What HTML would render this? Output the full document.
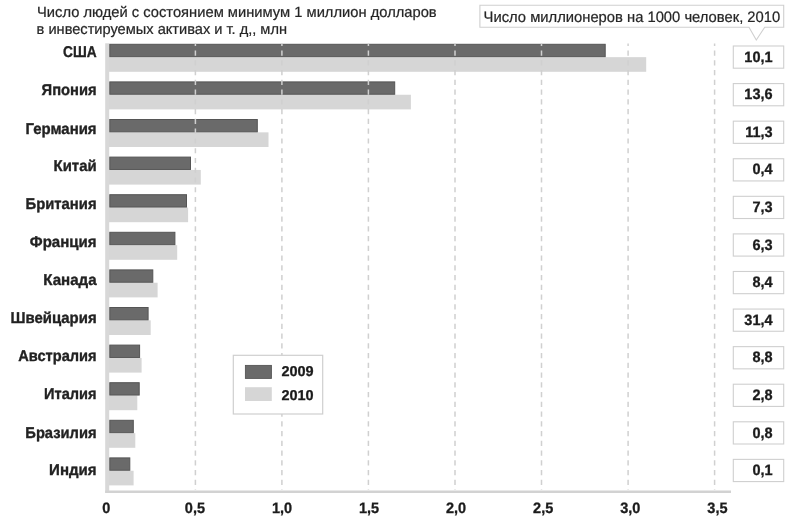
<!DOCTYPE html>
<html lang="ru"><head><meta charset="utf-8"><title>Число миллионеров</title>
<style>
html,body{margin:0;padding:0;background:#fff;}
body{width:790px;height:522px;overflow:hidden;}
svg{display:block;filter:blur(0.35px);}
text{font-family:"Liberation Sans",sans-serif;text-rendering:geometricPrecision;}
.t{font-size:14.9px;fill:#262626;stroke:#262626;stroke-width:0.22px;}
.t2{font-size:15.1px;fill:#262626;stroke:#262626;stroke-width:0.22px;}
.c{font-size:15.6px;font-weight:bold;fill:#222;stroke:#222;stroke-width:0.35px;}
.n{font-size:14.5px;font-weight:bold;fill:#1c1c1c;stroke:#1c1c1c;stroke-width:0.3px;}
</style></head><body>
<svg width="790" height="522" viewBox="0 0 790 522">
<rect x="0" y="0" width="790" height="522" fill="#fff"/>
<rect x="105.2" y="43.3" width="4.0" height="449.6" fill="#d8d8d8"/>
<rect x="105.2" y="490.5" width="625.8" height="2.5" fill="#d2d2d2"/>
<rect x="109.0" y="57.15" width="537.2" height="14.65" fill="#d6d6d6"/>
<rect x="109.80" y="44.30" width="495.4" height="12.35" fill="#6a6a6a" stroke="#555555" stroke-width="1"/>
<rect x="109.0" y="94.75" width="301.9" height="14.65" fill="#d6d6d6"/>
<rect x="109.80" y="81.90" width="284.9" height="12.35" fill="#6a6a6a" stroke="#555555" stroke-width="1"/>
<rect x="109.0" y="132.35" width="159.5" height="14.65" fill="#d6d6d6"/>
<rect x="109.80" y="119.50" width="147.5" height="12.35" fill="#6a6a6a" stroke="#555555" stroke-width="1"/>
<rect x="109.0" y="169.95" width="91.8" height="14.65" fill="#d6d6d6"/>
<rect x="109.80" y="157.10" width="80.7" height="12.35" fill="#6a6a6a" stroke="#555555" stroke-width="1"/>
<rect x="109.0" y="207.55" width="79.1" height="14.65" fill="#d6d6d6"/>
<rect x="109.80" y="194.70" width="76.7" height="12.35" fill="#6a6a6a" stroke="#555555" stroke-width="1"/>
<rect x="109.0" y="245.15" width="68.2" height="14.65" fill="#d6d6d6"/>
<rect x="109.80" y="232.30" width="65.1" height="12.35" fill="#6a6a6a" stroke="#555555" stroke-width="1"/>
<rect x="109.0" y="282.75" width="48.6" height="14.65" fill="#d6d6d6"/>
<rect x="109.80" y="269.90" width="43.0" height="12.35" fill="#6a6a6a" stroke="#555555" stroke-width="1"/>
<rect x="109.0" y="320.35" width="41.7" height="14.65" fill="#d6d6d6"/>
<rect x="109.80" y="307.50" width="38.3" height="12.35" fill="#6a6a6a" stroke="#555555" stroke-width="1"/>
<rect x="109.0" y="357.95" width="32.6" height="14.65" fill="#d6d6d6"/>
<rect x="109.80" y="345.10" width="29.8" height="12.35" fill="#6a6a6a" stroke="#555555" stroke-width="1"/>
<rect x="109.0" y="395.55" width="28.3" height="14.65" fill="#d6d6d6"/>
<rect x="109.80" y="382.70" width="29.4" height="12.35" fill="#6a6a6a" stroke="#555555" stroke-width="1"/>
<rect x="109.0" y="433.15" width="26.3" height="14.65" fill="#d6d6d6"/>
<rect x="109.80" y="420.30" width="23.5" height="12.35" fill="#6a6a6a" stroke="#555555" stroke-width="1"/>
<rect x="109.0" y="470.75" width="24.6" height="14.65" fill="#d6d6d6"/>
<rect x="109.80" y="457.90" width="20.0" height="12.35" fill="#6a6a6a" stroke="#555555" stroke-width="1"/>
<line x1="195.4" y1="43.5" x2="195.4" y2="490" stroke="#d0d0d0" stroke-width="1.5" stroke-dasharray="5.2 4.556" stroke-dashoffset="2.68"/>
<line x1="281.9" y1="43.5" x2="281.9" y2="490" stroke="#d0d0d0" stroke-width="1.5" stroke-dasharray="5.2 4.556" stroke-dashoffset="2.68"/>
<line x1="368.4" y1="43.5" x2="368.4" y2="490" stroke="#d0d0d0" stroke-width="1.5" stroke-dasharray="5.2 4.556" stroke-dashoffset="2.68"/>
<line x1="455.0" y1="43.5" x2="455.0" y2="490" stroke="#d0d0d0" stroke-width="1.5" stroke-dasharray="5.2 4.556" stroke-dashoffset="2.68"/>
<line x1="541.5" y1="43.5" x2="541.5" y2="490" stroke="#d0d0d0" stroke-width="1.5" stroke-dasharray="5.2 4.556" stroke-dashoffset="2.68"/>
<line x1="628.1" y1="43.5" x2="628.1" y2="490" stroke="#d0d0d0" stroke-width="1.5" stroke-dasharray="5.2 4.556" stroke-dashoffset="2.68"/>
<line x1="714.6" y1="43.5" x2="714.6" y2="490" stroke="#d0d0d0" stroke-width="1.5" stroke-dasharray="5.2 4.556" stroke-dashoffset="2.68"/>
<rect x="233.3" y="355.3" width="89.4" height="58.7" fill="#fff" stroke="#cfcfcf" stroke-width="1.2"/>
<rect x="245.4" y="365.4" width="26" height="13" fill="#6a6a6a" stroke="#555555" stroke-width="0.9"/>
<rect x="245" y="387.2" width="26.8" height="13.8" fill="#d6d6d6"/>
<text class="n" transform="translate(281.4,376.0) scale(1,0.98)">2009</text>
<text class="n" transform="translate(281.4,400.0) scale(1,0.98)">2010</text>
<text class="t" x="37" y="17.4" textLength="399.7" lengthAdjust="spacingAndGlyphs">Число людей с состоянием минимум 1 миллион долларов</text>
<text class="t" x="36.6" y="33.6" textLength="250.4" lengthAdjust="spacingAndGlyphs">в инвестируемых активах и т. д,, млн</text>
<path d="M479.9 5.3 H783.7 V27.3 H764.7 L756.3 40 L749 27.3 H479.9 Z" fill="#fff" stroke="#cfcfcf" stroke-width="1.1"/>
<text class="t2" x="483.6" y="21.5" textLength="296.6" lengthAdjust="spacingAndGlyphs">Число миллионеров на 1000 человек, 2010</text>
<text class="c" transform="translate(63.0,57.2) scale(1,1.0)" x="0" y="0" textLength="33.6" lengthAdjust="spacingAndGlyphs">США</text>
<text class="c" transform="translate(41.6,94.8) scale(1,1.0)" x="0" y="0" textLength="55.0" lengthAdjust="spacingAndGlyphs">Япония</text>
<text class="c" transform="translate(25.5,133.5) scale(1,1.0)" x="0" y="0" textLength="71.1" lengthAdjust="spacingAndGlyphs">Германия</text>
<text class="c" transform="translate(53.6,171.0) scale(1,1.0)" x="0" y="0" textLength="43.0" lengthAdjust="spacingAndGlyphs">Китай</text>
<text class="c" transform="translate(25.5,209.2) scale(1,1.0)" x="0" y="0" textLength="71.1" lengthAdjust="spacingAndGlyphs">Британия</text>
<text class="c" transform="translate(29.8,246.6) scale(1,1.0)" x="0" y="0" textLength="66.8" lengthAdjust="spacingAndGlyphs">Франция</text>
<text class="c" transform="translate(43.3,284.5) scale(1,1.0)" x="0" y="0" textLength="53.3" lengthAdjust="spacingAndGlyphs">Канада</text>
<text class="c" transform="translate(10.5,322.7) scale(1,1.0)" x="0" y="0" textLength="86.1" lengthAdjust="spacingAndGlyphs">Швейцария</text>
<text class="c" transform="translate(18.3,361.2) scale(1,1.0)" x="0" y="0" textLength="78.3" lengthAdjust="spacingAndGlyphs">Австралия</text>
<text class="c" transform="translate(44.1,398.6) scale(1,1.0)" x="0" y="0" textLength="52.5" lengthAdjust="spacingAndGlyphs">Италия</text>
<text class="c" transform="translate(25.3,437.5) scale(1,1.0)" x="0" y="0" textLength="71.3" lengthAdjust="spacingAndGlyphs">Бразилия</text>
<text class="c" transform="translate(49.1,474.9) scale(1,1.0)" x="0" y="0" textLength="47.5" lengthAdjust="spacingAndGlyphs">Индия</text>
<rect x="733.3" y="46.00" width="50.4" height="22.2" fill="#fff" stroke="#cfcfcf" stroke-width="1.1"/>
<text class="n" transform="translate(772.6,61.70) scale(1,1.04)" text-anchor="end">10,1</text>
<rect x="733.3" y="83.58" width="50.4" height="22.2" fill="#fff" stroke="#cfcfcf" stroke-width="1.1"/>
<text class="n" transform="translate(772.6,99.28) scale(1,1.04)" text-anchor="end">13,6</text>
<rect x="733.3" y="121.16" width="50.4" height="22.2" fill="#fff" stroke="#cfcfcf" stroke-width="1.1"/>
<text class="n" transform="translate(772.6,136.86) scale(1,1.04)" text-anchor="end">11,3</text>
<rect x="733.3" y="158.74" width="50.4" height="22.2" fill="#fff" stroke="#cfcfcf" stroke-width="1.1"/>
<text class="n" transform="translate(772.6,174.44) scale(1,1.04)" text-anchor="end">0,4</text>
<rect x="733.3" y="196.32" width="50.4" height="22.2" fill="#fff" stroke="#cfcfcf" stroke-width="1.1"/>
<text class="n" transform="translate(772.6,212.02) scale(1,1.04)" text-anchor="end">7,3</text>
<rect x="733.3" y="233.90" width="50.4" height="22.2" fill="#fff" stroke="#cfcfcf" stroke-width="1.1"/>
<text class="n" transform="translate(772.6,249.60) scale(1,1.04)" text-anchor="end">6,3</text>
<rect x="733.3" y="271.48" width="50.4" height="22.2" fill="#fff" stroke="#cfcfcf" stroke-width="1.1"/>
<text class="n" transform="translate(772.6,287.18) scale(1,1.04)" text-anchor="end">8,4</text>
<rect x="733.3" y="309.06" width="50.4" height="22.2" fill="#fff" stroke="#cfcfcf" stroke-width="1.1"/>
<text class="n" transform="translate(772.6,324.76) scale(1,1.04)" text-anchor="end">31,4</text>
<rect x="733.3" y="346.64" width="50.4" height="22.2" fill="#fff" stroke="#cfcfcf" stroke-width="1.1"/>
<text class="n" transform="translate(772.6,362.34) scale(1,1.04)" text-anchor="end">8,8</text>
<rect x="733.3" y="384.22" width="50.4" height="22.2" fill="#fff" stroke="#cfcfcf" stroke-width="1.1"/>
<text class="n" transform="translate(772.6,399.92) scale(1,1.04)" text-anchor="end">2,8</text>
<rect x="733.3" y="421.80" width="50.4" height="22.2" fill="#fff" stroke="#cfcfcf" stroke-width="1.1"/>
<text class="n" transform="translate(772.6,437.50) scale(1,1.04)" text-anchor="end">0,8</text>
<rect x="733.3" y="459.38" width="50.4" height="22.2" fill="#fff" stroke="#cfcfcf" stroke-width="1.1"/>
<text class="n" transform="translate(772.6,475.08) scale(1,1.04)" text-anchor="end">0,1</text>
<text class="n" transform="translate(106.4,512.7) scale(1,1.04)" text-anchor="middle">0</text>
<text class="n" transform="translate(194.9,512.7) scale(1,1.04)" text-anchor="middle">0,5</text>
<text class="n" transform="translate(282.0,512.7) scale(1,1.04)" text-anchor="middle">1,0</text>
<text class="n" transform="translate(369.1,512.7) scale(1,1.04)" text-anchor="middle">1,5</text>
<text class="n" transform="translate(456.1,512.7) scale(1,1.04)" text-anchor="middle">2,0</text>
<text class="n" transform="translate(543.2,512.7) scale(1,1.04)" text-anchor="middle">2,5</text>
<text class="n" transform="translate(630.3,512.7) scale(1,1.04)" text-anchor="middle">3,0</text>
<text class="n" transform="translate(717.4,512.7) scale(1,1.04)" text-anchor="middle">3,5</text>
</svg>
</body></html>
